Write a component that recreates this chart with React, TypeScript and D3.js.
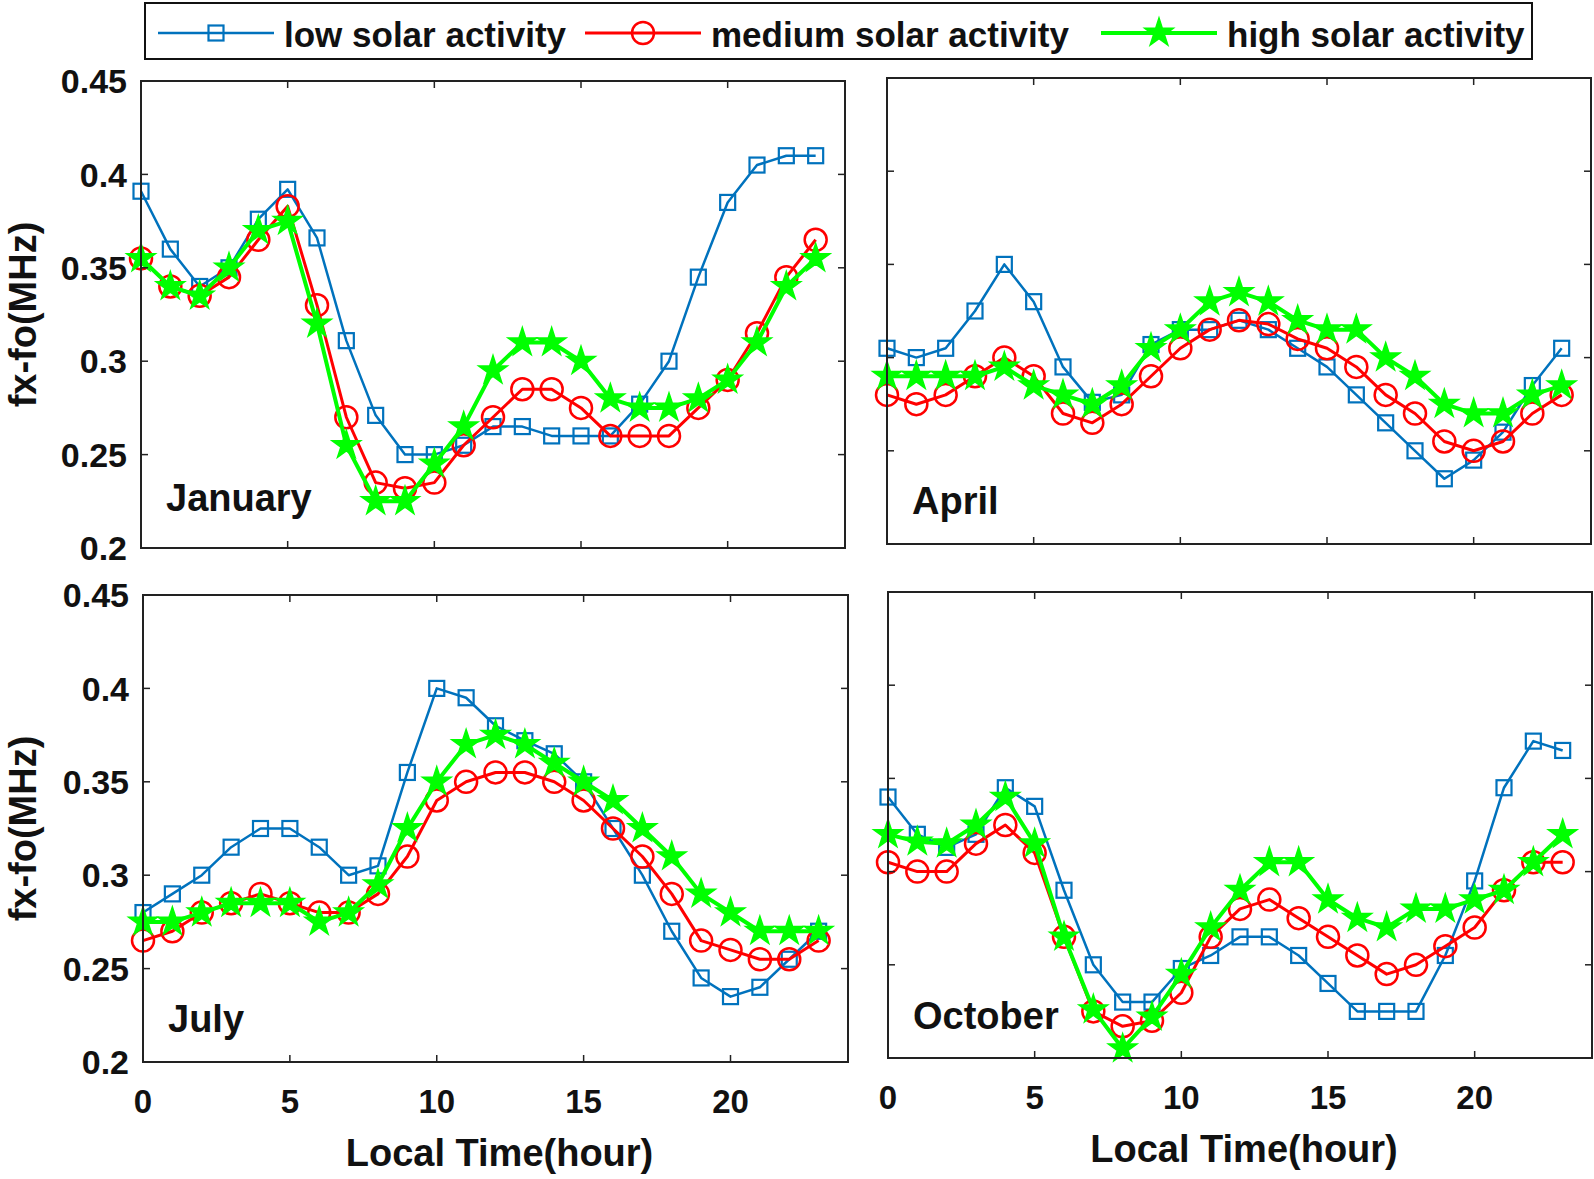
import * as d3 from "d3";

const hours = [0, 1, 2, 3, 4, 5, 6, 7, 8, 9, 10, 11, 12, 13, 14, 15, 16, 17, 18, 19, 20, 21, 22, 23];
const months = ["January", "April", "July", "October"];
const seriesNames = ["low solar activity", "medium solar activity", "high solar activity"];
const xTicks = [0, 5, 10, 15, 20];
const yTicks = [0.2, 0.25, 0.3, 0.35, 0.4, 0.45];
const yTickLabels = ["0.2", "0.25", "0.3", "0.35", "0.4", "0.45"];

const janLow = [0.391, 0.36, 0.34, 0.35, 0.376, 0.392, 0.366, 0.311, 0.271, 0.25, 0.25, 0.255, 0.265, 0.265, 0.26, 0.26, 0.26, 0.277, 0.3, 0.345, 0.385, 0.405, 0.41, 0.41];
const janMed = [0.355, 0.34, 0.335, 0.345, 0.365, 0.383, 0.33, 0.27, 0.235, 0.232, 0.235, 0.255, 0.27, 0.285, 0.285, 0.275, 0.26, 0.26, 0.26, 0.275, 0.29, 0.315, 0.345, 0.365];
const janHigh = [0.355, 0.34, 0.335, 0.35, 0.37, 0.375, 0.32, 0.255, 0.225, 0.225, 0.245, 0.265, 0.295, 0.31, 0.31, 0.3, 0.28, 0.275, 0.275, 0.28, 0.29, 0.31, 0.34, 0.355];

const aprLow = [0.305, 0.3, 0.305, 0.325, 0.35, 0.33, 0.295, 0.276, 0.28, 0.307, 0.315, 0.315, 0.32, 0.315, 0.305, 0.295, 0.28, 0.265, 0.25, 0.235, 0.245, 0.26, 0.285, 0.305];
const aprMed = [0.28, 0.275, 0.28, 0.29, 0.3, 0.29, 0.27, 0.265, 0.275, 0.29, 0.305, 0.315, 0.32, 0.318, 0.31, 0.305, 0.295, 0.28, 0.27, 0.255, 0.25, 0.255, 0.27, 0.28];
const aprHigh = [0.29, 0.29, 0.29, 0.29, 0.295, 0.285, 0.28, 0.275, 0.285, 0.305, 0.315, 0.33, 0.335, 0.33, 0.32, 0.315, 0.315, 0.3, 0.29, 0.275, 0.27, 0.27, 0.28, 0.285];

const julLow = [0.28, 0.29, 0.3, 0.315, 0.325, 0.325, 0.315, 0.3, 0.305, 0.355, 0.4, 0.395, 0.38, 0.372, 0.365, 0.35, 0.325, 0.3, 0.27, 0.245, 0.235, 0.24, 0.255, 0.27];
const julMed = [0.265, 0.27, 0.28, 0.285, 0.29, 0.285, 0.28, 0.28, 0.29, 0.31, 0.34, 0.35, 0.355, 0.355, 0.35, 0.34, 0.325, 0.31, 0.29, 0.265, 0.26, 0.255, 0.255, 0.265];
const julHigh = [0.275, 0.275, 0.28, 0.285, 0.285, 0.285, 0.275, 0.28, 0.295, 0.325, 0.35, 0.37, 0.375, 0.37, 0.36, 0.35, 0.34, 0.325, 0.31, 0.29, 0.28, 0.27, 0.27, 0.27];

const octLow = [0.34, 0.32, 0.313, 0.32, 0.345, 0.335, 0.29, 0.25, 0.23, 0.23, 0.248, 0.255, 0.265, 0.265, 0.255, 0.24, 0.225, 0.225, 0.225, 0.255, 0.295, 0.345, 0.37, 0.365];
const octMed = [0.305, 0.3, 0.3, 0.315, 0.325, 0.31, 0.265, 0.225, 0.217, 0.22, 0.235, 0.265, 0.28, 0.285, 0.275, 0.265, 0.255, 0.245, 0.25, 0.26, 0.27, 0.29, 0.305, 0.305];
const octHigh = [0.32, 0.316, 0.315, 0.325, 0.34, 0.315, 0.265, 0.226, 0.205, 0.222, 0.245, 0.27, 0.29, 0.305, 0.305, 0.285, 0.275, 0.27, 0.28, 0.28, 0.285, 0.29, 0.305, 0.32];

const lowByMonth = [janLow, aprLow, julLow, octLow];
const medByMonth = [janMed, aprMed, julMed, octMed];
const highByMonth = [janHigh, aprHigh, julHigh, octHigh];

// panel boxes (pixels) in the 1594x1179 picture
const boxes = [
  { left: 141, right: 845, top: 81, bottom: 548, yLab: true, xLab: false, nameUp: 37 },
  { left: 887, right: 1591, top: 78, bottom: 544, yLab: false, xLab: false, nameUp: 30 },
  { left: 143, right: 848, top: 595, bottom: 1062, yLab: true, xLab: true, nameUp: 30 },
  { left: 888, right: 1592, top: 592, bottom: 1058, yLab: false, xLab: true, nameUp: 29 },
];

const colors = ["#0072BD", "#FF0000", "#00FF00"];
const widths = [2.5, 3, 4];
const font = "'Liberation Sans', Arial, sans-serif";
const axisColor = "#222";

const starPath = d3.symbol(d3.symbolStar, (15 * 15) / 0.8908130915292852)();

function Marker({ kind, x, y }) {
  if (kind === 0)
    return <rect x={x - 7.5} y={y - 7.5} width={15} height={15} fill="none" stroke={colors[0]} strokeWidth={2.2} />;
  if (kind === 1)
    return <circle cx={x} cy={y} r={11} fill="none" stroke={colors[1]} strokeWidth={2.5} />;
  return <path d={starPath} transform={`translate(${x},${y})`} fill={colors[2]} stroke={colors[2]} strokeWidth={1.5} />;
}

function Panel({ i }) {
  const b = boxes[i];
  const x = d3.scaleLinear().domain([0, 24]).range([b.left, b.right]);
  const y = d3.scaleLinear().domain([0.2, 0.45]).range([b.bottom, b.top]);
  const series = [lowByMonth[i], medByMonth[i], highByMonth[i]];
  const line = d3
    .line<number>()
    .x((d, k) => x(hours[k]))
    .y((d) => y(d));
  const tl = 7;

  return (
    <g>
      <rect x={b.left} y={b.top} width={b.right - b.left} height={b.bottom - b.top} fill="#fff" />
      {series.map((s, k) => (
        <g key={k}>
          <path d={line(s)} fill="none" stroke={colors[k]} strokeWidth={widths[k]} strokeLinejoin="round" />
          {s.map((v, j) => (
            <Marker key={j} kind={k} x={x(hours[j])} y={y(v)} />
          ))}
        </g>
      ))}
      <rect x={b.left} y={b.top} width={b.right - b.left} height={b.bottom - b.top} fill="none" stroke={axisColor} strokeWidth={2} />
      {xTicks.map((t) => (
        <g key={t}>
          <line x1={x(t)} x2={x(t)} y1={b.bottom} y2={b.bottom - tl} stroke={axisColor} strokeWidth={1.5} />
          <line x1={x(t)} x2={x(t)} y1={b.top} y2={b.top + tl} stroke={axisColor} strokeWidth={1.5} />
          {b.xLab && (
            <text x={x(t)} y={b.bottom + 51} textAnchor="middle" fontSize={33} fontWeight="bold" fontFamily={font} fill="#111">
              {t}
            </text>
          )}
        </g>
      ))}
      {yTicks.map((t, k) => (
        <g key={t}>
          <line x1={b.left} x2={b.left + tl} y1={y(t)} y2={y(t)} stroke={axisColor} strokeWidth={1.5} />
          <line x1={b.right} x2={b.right - tl} y1={y(t)} y2={y(t)} stroke={axisColor} strokeWidth={1.5} />
          {b.yLab && (
            <text x={b.left - 14} y={y(t)} dy="0.36em" textAnchor="end" fontSize={34} fontWeight="bold" fontFamily={font} fill="#111">
              {yTickLabels[k]}
            </text>
          )}
        </g>
      ))}
      <text x={b.left + 25} y={b.bottom - b.nameUp} fontSize={38} fontWeight="bold" fontFamily={font} fill="#111">
        {months[i]}
      </text>
      {b.yLab && (
        <text
          transform={`translate(36,${(b.top + b.bottom) / 2}) rotate(-90)`}
          textAnchor="middle"
          fontSize={38}
          fontWeight="bold"
          fontFamily={font}
          fill="#111"
        >
          fx-fo(MHz)
        </text>
      )}
      {b.xLab && (
        <text x={(b.left + b.right) / 2 + 4} y={b.bottom + 104} textAnchor="middle" fontSize={38} fontWeight="bold" fontFamily={font} fill="#111">
          Local Time(hour)
        </text>
      )}
    </g>
  );
}

function Legend() {
  const lineStarts = [158, 585, 1101];
  const lineLen = 116;
  const ly = 33;
  return (
    <g>
      <rect x={145} y={3} width={1387} height={56} fill="#fff" stroke="#111" strokeWidth={2} />
      {seriesNames.map((name, k) => {
        const x0 = lineStarts[k];
        return (
          <g key={name}>
            <line x1={x0} x2={x0 + lineLen} y1={ly} y2={ly} stroke={colors[k]} strokeWidth={widths[k]} />
            <Marker kind={k} x={x0 + lineLen / 2} y={ly} />
            <text x={x0 + lineLen + 10} y={ly + 14} fontSize={35} fontWeight="bold" fontFamily={font} fill="#111">
              {name}
            </text>
          </g>
        );
      })}
    </g>
  );
}

export default function App() {
  return (
    <svg width={1594} height={1179} style={{ position: "absolute", left: 0, top: 0, background: "#fff" }}>
      <rect width={1594} height={1179} fill="#fff" />
      {months.map((m, i) => (
        <Panel key={m} i={i} />
      ))}
      <Legend />
    </svg>
  );
}
